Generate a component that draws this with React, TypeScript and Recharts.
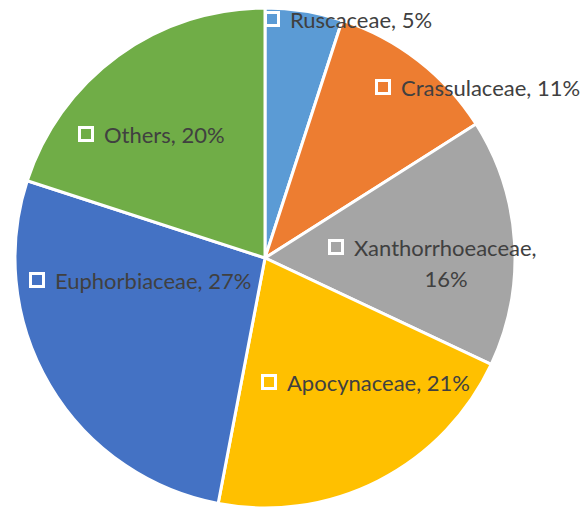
import { PieChart, Pie, Cell } from "recharts";

// Familias de plantas, em %
const families = ["Ruscaceae", "Crassulaceae", "Xanthorrhoeaceae", "Apocynaceae", "Euphorbiaceae", "Others"];
const shares = [5, 11, 16, 21, 27, 20];
const colors = ["#5B9BD5", "#ED7D31", "#A5A5A5", "#FFC000", "#4472C4", "#70AD47"];

const data = families.map((name, i) => ({ name, value: shares[i] }));

// onde o Excel colocou cada rótulo (relativo ao centro da pizza)
const labelSpots = [
  { dx: 7, dy: -239 },
  { dx: 118, dy: -171 },
  { dx: 71, dy: -11, wrap: true },
  { dx: 4, dy: 124 },
  { dx: -228, dy: 22 },
  { dx: -179, dy: -124 },
];

const FONT = "Lato, 'Noto Sans', sans-serif";
const FONT_SIZE = 22;

const renderLabel = (props: any) => {
  const { cx, cy, index, name, value } = props;
  const spot = labelSpots[index];
  const mx = cx + spot.dx;
  const my = cy + spot.dy;
  const tx = mx + 18;
  return (
    <g key={`lbl-${index}`}>
      <rect x={mx - 6.5} y={my - 6.5} width={13} height={13} fill={colors[index]} stroke="#fff" strokeWidth={3} />
      {spot.wrap ? (
        <text fontFamily={FONT} fontSize={FONT_SIZE} fill="#404040">
          <tspan x={tx} y={my} dominantBaseline="central">{`${name},`}</tspan>
          <tspan x={tx + 92} y={my + 31} dominantBaseline="central" textAnchor="middle">{`${value}%`}</tspan>
        </text>
      ) : (
        <text x={tx} y={my} dominantBaseline="central" fontFamily={FONT} fontSize={FONT_SIZE} fill="#404040">
          {`${name}, ${value}%`}
        </text>
      )}
    </g>
  );
};

export default function App() {
  return (
    <div style={{ position: "fixed", left: 0, top: 0, background: "#fff" }}>
      <PieChart width={583} height={508} margin={{ top: 0, right: 0, bottom: 0, left: 0 }}>
        <Pie
          data={data}
          dataKey="value"
          nameKey="name"
          cx={265}
          cy={258}
          outerRadius={250}
          startAngle={90}
          endAngle={-270}
          stroke="#fff"
          strokeWidth={3}
          label={renderLabel}
          labelLine={false}
          isAnimationActive={false}
        >
          {data.map((d, i) => (
            <Cell key={d.name} fill={colors[i]} />
          ))}
        </Pie>
      </PieChart>
    </div>
  );
}
